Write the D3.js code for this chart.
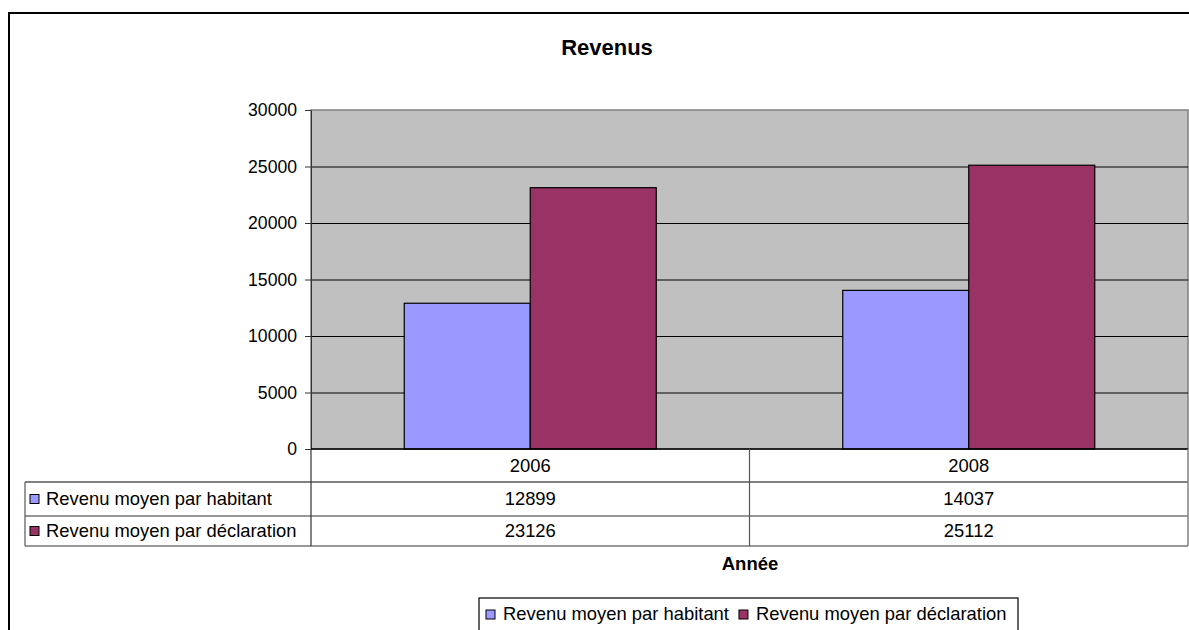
<!DOCTYPE html>
<html>
<head>
<meta charset="utf-8">
<script src="https://cdn.jsdelivr.net/npm/d3@7"></script>
<style>
  body { margin: 0; background: #fff; }
  svg { display: block; font-family: "Liberation Sans", Arial, sans-serif; }
</style>
</head>
<body>
<svg id="chart" width="1189" height="630"></svg>
<script>
const years = ['2006', '2008'];
const seriesNames = ['Revenu moyen par habitant', 'Revenu moyen par déclaration'];
const habitant = [12899, 14037];
const declaration = [23126, 25112];
const yTicks = [0, 5000, 10000, 15000, 20000, 25000, 30000];
const colors = ['#9999ff', '#993366'];

const width = 1189, height = 630;
const plot = { left: 311, right: 1188, top: 110, bottom: 449 };
const rowH = [449, 482, 516, 546];
const fontSize = 18.4;

const svg = d3.select('#chart');

/* outer frame */
svg.append('path')
    .attr('d', `M9,${height} L9,13 L${width},13`)
    .attr('fill', 'none')
    .attr('stroke', '#000')
    .attr('stroke-width', 2);

/* title */
svg.append('text')
    .attr('x', 607)
    .attr('y', 55)
    .attr('text-anchor', 'middle')
    .style('font-size', '22px')
    .style('font-weight', 'bold')
    .text('Revenus');

/* scales */
const xScale = d3.scaleBand()
    .domain(years)
    .range([plot.left, plot.right]);
const xInner = d3.scaleBand()
    .domain(seriesNames)
    .range([0, xScale.bandwidth()])
    .paddingOuter(0.74);
const yScale = d3.scaleLinear()
    .domain([0, 30000])
    .range([plot.bottom, plot.top]);

/* plot area */
svg.append('rect')
    .attr('x', plot.left)
    .attr('y', plot.top)
    .attr('width', plot.right - plot.left)
    .attr('height', plot.bottom - plot.top)
    .attr('fill', '#c0c0c0')
    .attr('stroke', '#808080')
    .attr('stroke-width', 1.5);

/* gridlines */
svg.append('g')
    .attr('transform', `translate(${plot.left},0)`)
    .call(d3.axisLeft(yScale).tickValues(yTicks.slice(1, -1))
        .tickSize(-(plot.right - plot.left)).tickFormat(''))
    .call(g => g.select('.domain').remove())
    .call(g => g.selectAll('line').attr('stroke', '#000').attr('stroke-width', 1.2));

/* y axis */
svg.append('g')
    .attr('transform', `translate(${plot.left},0)`)
    .call(d3.axisLeft(yScale).tickValues(yTicks).tickFormat(d3.format('d'))
        .tickSize(6).tickPadding(8).tickSizeOuter(0))
    .call(g => g.select('.domain').attr('stroke', '#333'))
    .call(g => g.selectAll('line').attr('stroke', '#333'))
    .call(g => g.selectAll('text')
        .style('font-size', '17.6px')
        .style('font-family', '"Liberation Sans", Arial, sans-serif')
        .attr('fill', '#000'));

/* bars */
const rows = years.map((y, i) => ({ year: y, values: [habitant[i], declaration[i]] }));
const groups = svg.append('g').selectAll('g')
    .data(rows).enter()
    .append('g')
    .attr('transform', d => `translate(${xScale(d.year)},0)`);
groups.selectAll('rect')
    .data(d => d.values.map((v, j) => ({ name: seriesNames[j], value: v, color: colors[j] })))
    .enter()
    .append('rect')
    .attr('x', d => xInner(d.name))
    .attr('y', d => yScale(d.value))
    .attr('width', xInner.bandwidth())
    .attr('height', d => yScale(0) - yScale(d.value))
    .attr('fill', d => d.color)
    .attr('stroke', '#000')
    .attr('stroke-width', 1.2);

/* data table */
const table = svg.append('g');
// horizontal lines
table.append('line')
    .attr('x1', 25).attr('x2', plot.right).attr('y1', rowH[1]).attr('y2', rowH[1])
    .attr('stroke', '#808080').attr('stroke-width', 2);
[rowH[2], rowH[3]].forEach(y => {
    table.append('line')
        .attr('x1', 25).attr('x2', plot.right).attr('y1', y).attr('y2', y)
        .attr('stroke', '#333').attr('stroke-width', 1.2);
});
table.append('line')
    .attr('x1', plot.left).attr('x2', plot.right).attr('y1', plot.bottom).attr('y2', plot.bottom)
    .attr('stroke', '#000').attr('stroke-width', 1.5);
// vertical lines
table.append('line')
    .attr('x1', 25).attr('x2', 25).attr('y1', rowH[1]).attr('y2', rowH[3])
    .attr('stroke', '#555').attr('stroke-width', 1.2);
table.append('line')
    .attr('x1', plot.left).attr('x2', plot.left).attr('y1', plot.bottom).attr('y2', rowH[3])
    .attr('stroke', '#333').attr('stroke-width', 1.2);
table.append('line')
    .attr('x1', xScale('2008')).attr('x2', xScale('2008')).attr('y1', plot.bottom).attr('y2', rowH[3])
    .attr('stroke', '#555').attr('stroke-width', 1.2);
table.append('line')
    .attr('x1', plot.right).attr('x2', plot.right).attr('y1', plot.bottom).attr('y2', rowH[3])
    .attr('stroke', '#808080').attr('stroke-width', 1.5);

// year row
table.selectAll('text.year')
    .data(years).enter()
    .append('text')
    .attr('class', 'year')
    .attr('x', d => xScale(d) + xScale.bandwidth() / 2)
    .attr('y', (rowH[0] + rowH[1]) / 2 + 6)
    .attr('text-anchor', 'middle')
    .style('font-size', fontSize + 'px')
    .text(d => d);

// value rows
[habitant, declaration].forEach((vals, j) => {
    const cy = (rowH[j + 1] + rowH[j + 2]) / 2;
    table.append('rect')
        .attr('x', 30).attr('y', cy - 4.5).attr('width', 9).attr('height', 9)
        .attr('fill', colors[j]).attr('stroke', '#000').attr('stroke-width', 1);
    table.append('text')
        .attr('x', 46).attr('y', cy + 6)
        .style('font-size', fontSize + 'px')
        .text(seriesNames[j]);
    table.selectAll(null)
        .data(vals).enter()
        .append('text')
        .attr('x', (d, i) => xScale(years[i]) + xScale.bandwidth() / 2)
        .attr('y', cy + 6)
        .attr('text-anchor', 'middle')
        .style('font-size', fontSize + 'px')
        .text(d => d);
});

/* x axis title */
svg.append('text')
    .attr('x', 750)
    .attr('y', 570)
    .attr('text-anchor', 'middle')
    .style('font-size', '18.5px')
    .style('font-weight', 'bold')
    .text('Année');

/* legend */
const legend = svg.append('g');
legend.append('rect')
    .attr('x', 479).attr('y', 598).attr('width', 539).attr('height', 40)
    .attr('fill', '#fff').attr('stroke', '#000').attr('stroke-width', 1.2);
let lx = 486;
seriesNames.forEach((name, j) => {
    legend.append('rect')
        .attr('x', lx).attr('y', 610).attr('width', 9).attr('height', 9)
        .attr('fill', colors[j]).attr('stroke', '#000').attr('stroke-width', 1);
    const t = legend.append('text')
        .attr('x', lx + 17).attr('y', 620)
        .style('font-size', fontSize + 'px')
        .text(name);
    lx = lx + 17 + t.node().getComputedTextLength() + 10;
});
</script>
</body>
</html>
